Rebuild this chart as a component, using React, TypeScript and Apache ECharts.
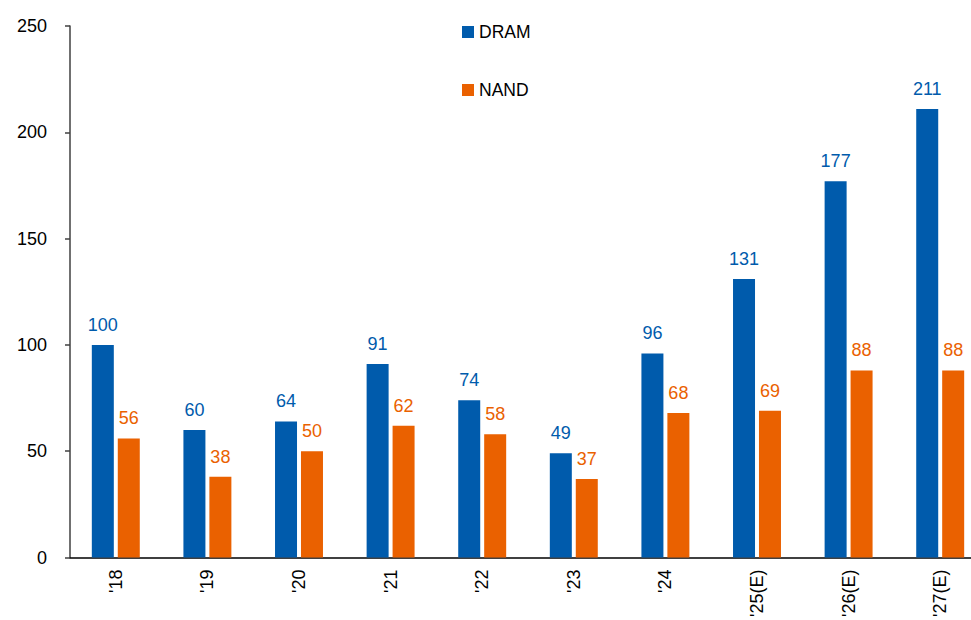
import React, { useEffect, useRef } from "react";
import * as echarts from "echarts";

const categories = ["'18", "'19", "'20", "'21", "'22", "'23", "'24", "'25(E)", "'26(E)", "'27(E)"];
const dramValues = [100, 60, 64, 91, 74, 49, 96, 131, 177, 211];
const nandValues = [56, 38, 50, 62, 58, 37, 68, 69, 88, 88];

const BLUE = "#005BAC";
const ORANGE = "#EA6100";
const FONT = "Liberation Sans, Arial, sans-serif";

export default function App() {
  const ref = useRef<HTMLDivElement>(null);

  useEffect(() => {
    if (!ref.current) return;
    const chart = echarts.init(ref.current, null, { renderer: "svg" });
    chart.setOption({
      animation: false,
      backgroundColor: "#ffffff",
      textStyle: { fontFamily: FONT },
      legend: {
        orient: "vertical",
        left: 457,
        top: 18,
        itemWidth: 12,
        itemHeight: 12,
        itemGap: 40,
        icon: "rect",
        textStyle: { fontSize: 17.5, color: "#000", fontFamily: FONT, padding: [0, 0, 0, 0] },
        data: ["DRAM", "NAND"],
      },
      grid: { left: 70, right: 0, top: 26, bottom: 62 },
      xAxis: {
        type: "category",
        data: categories,
        axisLine: { lineStyle: { color: "#000", width: 1.5 } },
        axisTick: { show: false },
        axisLabel: {
          rotate: 90,
          interval: 0,
          margin: 12,
          fontSize: 18,
          color: "#000",
          fontFamily: FONT,
        },
      },
      yAxis: {
        type: "value",
        min: 0,
        max: 250,
        interval: 50,
        splitLine: { show: false },
        axisLine: { show: true, lineStyle: { color: "#404040", width: 1.5 } },
        axisTick: { show: true, length: 5, lineStyle: { color: "#404040", width: 1.5 } },
        axisLabel: { margin: 23, fontSize: 18, color: "#000", fontFamily: FONT },
      },
      series: [
        {
          name: "DRAM",
          type: "bar",
          data: dramValues,
          barWidth: 22,
          barGap: "18%",
          itemStyle: { color: BLUE },
          label: {
            show: true,
            position: "top",
            distance: 11,
            fontSize: 18,
            color: BLUE,
            fontFamily: FONT,
          },
        },
        {
          name: "NAND",
          type: "bar",
          data: nandValues,
          barWidth: 22,
          itemStyle: { color: ORANGE },
          label: {
            show: true,
            position: "top",
            distance: 11,
            fontSize: 18,
            color: ORANGE,
            fontFamily: FONT,
          },
        },
      ],
    });
    return () => chart.dispose();
  }, []);

  // The plot runs past the right edge, so the chart is wider than its clipping frame.
  return (
    <div style={{ width: 971, height: 620, position: "absolute", left: 0, top: 0, overflow: "hidden" }}>
      <div ref={ref} style={{ width: 986, height: 620 }} />
    </div>
  );
}
